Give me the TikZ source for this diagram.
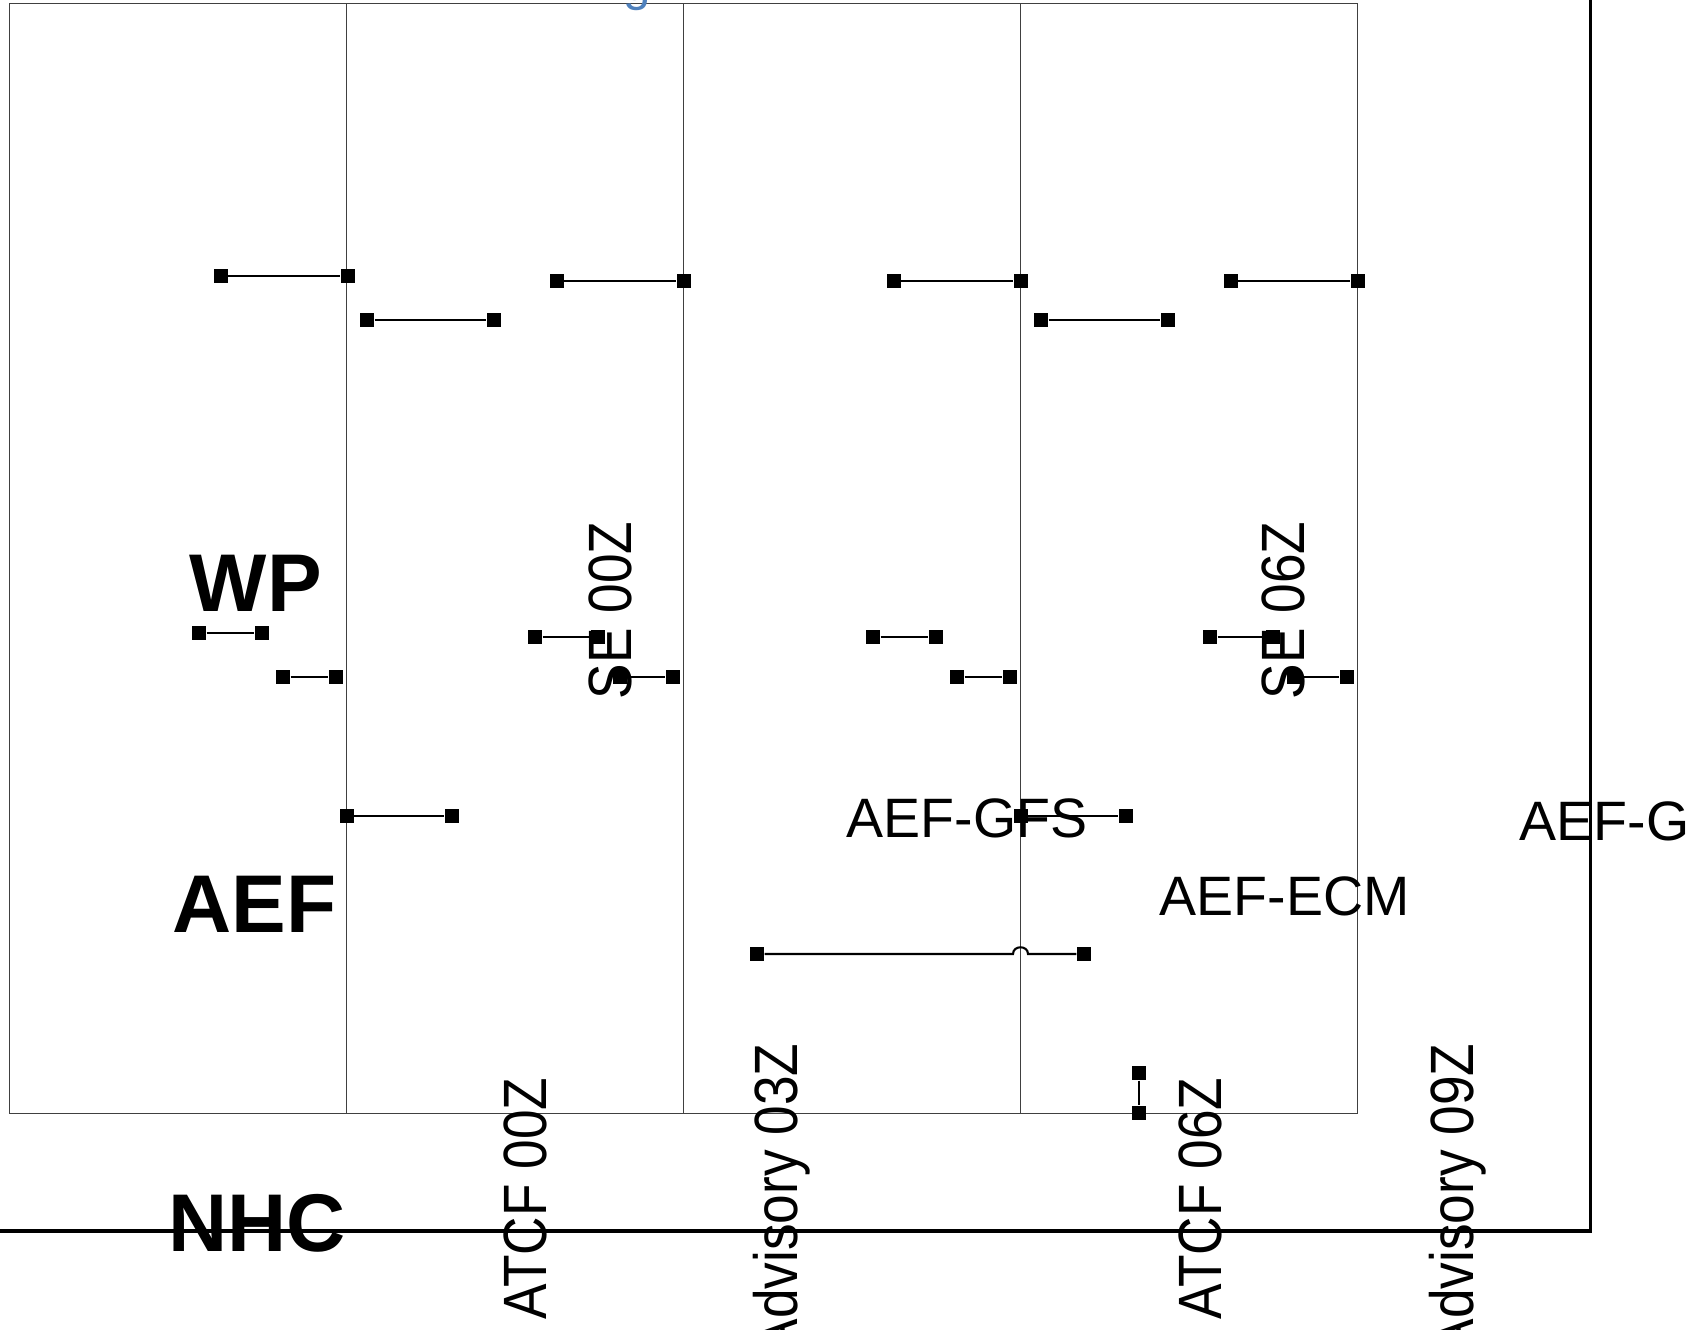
\documentclass[tikz,border=0pt]{standalone}
\usepackage{fontspec}
\setmainfont{Liberation Sans}
\newfontfamily\etirfont[FakeStretch=0.87]{Liberation Sans}
\definecolor{bleutitre}{RGB}{79,129,189}
\tikzset{
  grille/.style={draw=black!75, line width=0.3pt},
  cadre/.style={line width=0.9pt},
  carre/.style={rectangle, fill=black, inner sep=0pt, minimum size=1.4mm},
  seg/.style={line width=0.6pt},
  etiq/.style={font=\fontsize{15.8}{18}\selectfont, inner sep=0pt},
  titre/.style={font=\fontsize{23.3}{27}\selectfont\bfseries, inner sep=0pt, anchor=base},
  vert/.style={rotate=90, anchor=base east, inner sep=0pt, font=\etirfont\fontsize{17.4}{20}\selectfont},
}
\begin{document}
\begin{tikzpicture}[x=0.1mm, y=-0.1mm]
    \useasboundingbox (0,0) rectangle (1688,1329);
    % Grille (rectangle et colonnes)
    \draw[grille] (9.7,3.2) rectangle (1357.5,1113);
    \foreach \x in {346.6,683.6,1020.5} {
        \draw[grille] (\x,3.2) -- (\x,1113);}
    % Cadre épais
    \draw[cadre] (1590.5,-5) -- (1590.5,1231) -- (-5,1231);
    % Texte bleu coupé en haut
    \node[font=\fontsize{14}{16}\selectfont, text=bleutitre, anchor=base, inner sep=0pt] (haut) at (637,0) {g};
    % Segments du haut
    \foreach \i/\xa/\y in {0/220.7/275.6, 1/556.5/281, 2/893.5/281, 3/1230.5/281} {
        \node[carre] (ha\i) at (\xa,\y) {};
        \node[carre] (hb\i) at (\xa+127,\y) {};
        \draw[seg] (ha\i) -- (hb\i);}
    \foreach \i/\xa in {0/367, 1/1041} {
        \node[carre] (ma\i) at (\xa,319.7) {};
        \node[carre] (mb\i) at (\xa+127,319.7) {};
        \draw[seg] (ma\i) -- (mb\i);}
    % Segments courts sous WP
    \foreach \i/\xa/\y in {0/199/633, 1/535/637.3, 2/873/637.3, 3/1210/637.3} {
        \node[carre] (pa\i) at (\xa,\y) {};
        \node[carre] (pb\i) at (\xa+63,\y) {};
        \draw[seg] (pa\i) -- (pb\i);}
    \foreach \i/\xa in {0/283, 1/620, 2/957, 3/1294} {
        \node[carre] (qa\i) at (\xa,677) {};
        \node[carre] (qb\i) at (\xa+53,677) {};
        \draw[seg] (qa\i) -- (qb\i);}
    % Segments AEF
    \node[carre] (ga) at (346.6,816) {};
    \node[carre] (gb) at (452,816) {};
    \draw[seg] (ga) -- (gb);
    \node[carre] (fa) at (1020.5,816) {};
    \node[carre] (fb) at (1126,816) {};
    \draw[seg] (fa) -- (fb);
    % Segment long avec saut
    \node[carre] (la) at (757,954) {};
    \node[carre] (lb) at (1084,954) {};
    \draw[seg] (la) -- (1013,954) .. controls (1013,945) and (1028,945) .. (1028,954) -- (lb);
    % Segment vertical
    \node[carre] (va) at (1139,1073) {};
    \node[carre] (vb) at (1139,1113) {};
    \draw[seg] (va) -- (vb);
    % Titres des lignes
    \node[titre] (wp) at (255.7,611.5) {WP};
    \node[titre] (aef) at (254.5,932) {AEF};
    \node[titre] (nhc) at (256.8,1251) {NHC};
    % Étiquettes
    \node[etiq, anchor=base] (gfs) at (967,837) {AEF-GFS};
    \node[etiq, anchor=base] (ecm) at (1284.5,915) {AEF-ECM};
    \node[etiq, anchor=base west] (gfsb) at (1519,840) {AEF-GFS};
    % Étiquettes verticales
    \node[vert] (se0) at (631,521) {SE 00Z};
    \node[vert] (se6) at (1304,521) {SE 06Z};
    \node[vert] (at0) at (546.5,1077) {ATCF 00Z};
    \node[vert] (at6) at (1221,1077) {ATCF 06Z};
    \node[vert] (ad3) at (797,1043) {Advisory 03Z};
    \node[vert] (ad9) at (1473.6,1043) {Advisory 09Z};
\end{tikzpicture}
\end{document}
